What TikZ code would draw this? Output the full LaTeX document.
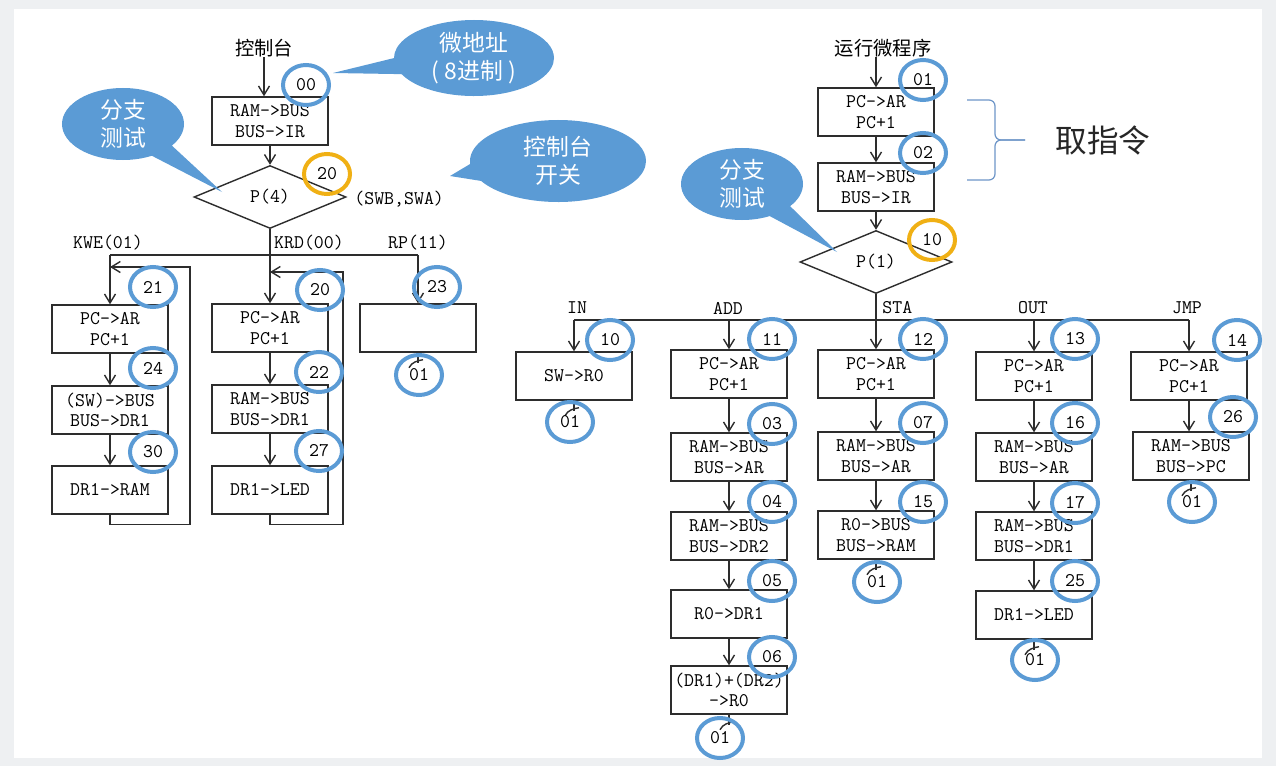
\documentclass[tikz,border=0pt]{standalone}
\usepackage{fontspec}
\usetikzlibrary{shapes.geometric,shapes.callouts,arrows.meta}
\newfontfamily\cjk{Noto Sans CJK SC}
\newcommand\boxfont{\ttfamily}
\definecolor{tagblue}{RGB}{91,155,213}
\definecolor{tagorange}{RGB}{240,176,20}
\definecolor{lineclr}{RGB}{45,45,45}
\definecolor{braceclr}{RGB}{110,150,200}
\definecolor{bgmargin}{RGB}{238,240,242}

\tikzset{
  op/.style={draw=lineclr, line width=0.8pt, fill=white, minimum width=23.2mm, minimum height=9.6mm,
    inner sep=0pt, align=center, font=\boxfont\fontsize{11pt}{11.6pt}\selectfont},
  test/.style={diamond, draw=lineclr, line width=0.8pt, minimum width=30.4mm, minimum height=12.6mm,
    inner sep=0pt, font=\boxfont\fontsize{11pt}{12pt}\selectfont},
  tag/.style={ellipse, draw=tagblue, line width=0.8mm, minimum width=9.2mm, minimum height=8mm,
    inner sep=0pt, font=\boxfont\fontsize{11pt}{12pt}\selectfont},
  tagor/.style={tag, draw=tagorange},
  lbl/.style={inner sep=0pt, font=\boxfont\fontsize{11pt}{12pt}\selectfont},
  cnlbl/.style={inner sep=0pt, font=\cjk\fontsize{11pt}{13pt}\selectfont},
  bubble/.style={ellipse callout, fill=tagblue, text=white, inner sep=0pt, align=center,
    callout pointer arc=25, font=\cjk\fontsize{13pt}{16pt}\selectfont},
  flow/.style={draw=lineclr, line width=0.8pt, -{Straight Barb[length=1.8mm,width=2.2mm]}},
  wire/.style={draw=lineclr, line width=0.8pt},
  pics/retmark/.style={code={
    \draw[wire] (0,0) -- (0,10);
    \draw[wire] (5,7) .. controls (0,8) and (-6,9) .. (-9,15);}}
}

\begin{document}
\begin{tikzpicture}[x=0.2mm,y=-0.2mm]
  \fill[bgmargin] (0,0) rectangle (1276,766);
  \fill[white] (14,9) rectangle (1262,758);
  \useasboundingbox (0,0) rectangle (1276,766);

  % console micro program
  \node[cnlbl] (ctl) at (264,48) {控制台};
  \node[op] (b00) at (270,121) {RAM->BUS\\BUS->IR};
  \node[test] (dia4) at (270,197) {P(4)};
  \node[lbl, anchor=west] (sw) at (354,199) {(SWB,SWA)};
  \draw[flow] (ctl.south) -- (ctl.south |- b00.north);
  \draw[flow] (b00) -- (dia4);

  \node[lbl] (kwe) at (108,243) {KWE(01)};
  \node[lbl] (krd) at (309,243) {KRD(00)};
  \node[lbl] (rpl) at (418,243) {RP(11)};

  \node[op] (kwe1) at (110,329) {PC->AR\\PC+1};
  \node[op] (kwe2) at (110,410) {(SW)->BUS\\BUS->DR1};
  \node[op] (kwe3) at (110,490) {DR1->RAM};
  \node[op] (krd1) at (270,328) {PC->AR\\PC+1};
  \node[op] (krd2) at (270,409) {RAM->BUS\\BUS->DR1};
  \node[op] (krd3) at (270,490) {DR1->LED};
  \node[op] (rp1) at (418,328) {};

  \coordinate (lbar) at (270,255);
  \draw[wire] (dia4.south) -- (lbar);
  \draw[wire] (kwe1.north |- lbar) -- (rp1.north |- lbar);
  \draw[flow] (kwe1.north |- lbar) -- (kwe1.north);
  \draw[flow] (lbar) -- (krd1.north);
  \draw[flow] (rp1.north |- lbar) -- (rp1.north);
  \draw[flow] (kwe1) -- (kwe2);
  \draw[flow] (kwe2) -- (kwe3);
  \draw[flow] (krd1) -- (krd2);
  \draw[flow] (krd2) -- (krd3);

  % write / read loops
  \coordinate (kweback) at (190,267);
  \coordinate (krdback) at (343,272);
  \draw[flow] (kwe3.south) -- ++(0,10) -| (kweback) -- (kweback -| kwe1.north);
  \draw[flow] (krd3.south) -- ++(0,10) -| (krdback) -- (krdback -| krd1.north);
  \pic at (rp1.south) {retmark};

  \node[tag] (t00) at (306,85) {00};
  \node[tagor] (t20a) at (327,174) {20};
  \node[tag] (t21) at (153,287) {21};
  \node[tag] (t24) at (153,368) {24};
  \node[tag] (t30) at (153,452) {30};
  \node[tag] (t20) at (320,290) {20};
  \node[tag] (t22) at (319,372) {22};
  \node[tag] (t27) at (319,451) {27};
  \node[tag] (t23) at (437,287) {23};
  \node[tag] (rpend) at (419,375) {01};

  \node[bubble, minimum width=32mm, minimum height=15.2mm,
    callout absolute pointer={(333,73)}] (addrnote) at (474,58) {微地址\\( 8进制 )};
  \node[bubble, minimum width=24.4mm, minimum height=14.4mm,
    callout absolute pointer={(222,192)}] (brnote) at (123,124) {分支\\测试};
  \node[bubble, minimum width=35.2mm, minimum height=16.4mm,
    callout absolute pointer={(450,176)}] (swnote) at (558,161) {控制台\\开关};

  % run micro program
  \node[cnlbl] (run) at (883,48) {运行微程序};
  \node[op] (f1) at (876,112) {PC->AR\\PC+1};
  \node[op] (f2) at (876,187) {RAM->BUS\\BUS->IR};
  \node[test] (dia1) at (876,262) {P(1)};
  \draw[flow] (run.south -| f1.north) -- (f1.north);
  \draw[flow] (f1) -- (f2);
  \draw[flow] (f2) -- (dia1);

  \draw[braceclr, line width=0.7pt, rounded corners=1.2mm] (967,100) -- (995,100) -- (995,140) -- (1025,140);
  \draw[braceclr, line width=0.7pt, rounded corners=1.2mm] (967,180) -- (995,180) -- (995,140) -- (1025,140);
  \node[inner sep=0pt, text=black!85, font=\cjk\fontsize{18pt}{20pt}\selectfont] (fetch) at (1103,140) {取指令};

  \node[lbl] (inl) at (577,308) {IN};
  \node[lbl] (addl) at (728,308) {ADD};
  \node[lbl, anchor=west] (stal) at (882,308) {STA};
  \node[lbl] (outl) at (1033,308) {OUT};
  \node[lbl] (jmpl) at (1187,308) {JMP};

  \node[op] (in1) at (574,376) {SW->R0};
  \node[op] (add1) at (729,374) {PC->AR\\PC+1};
  \node[op] (add2) at (729,457) {RAM->BUS\\BUS->AR};
  \node[op] (add3) at (729,536) {RAM->BUS\\BUS->DR2};
  \node[op] (add4) at (729,614) {R0->DR1};
  \node[op] (add5) at (729,690) {(DR1)+(DR2)\\->R0};
  \node[op] (sta1) at (876,374) {PC->AR\\PC+1};
  \node[op] (sta2) at (876,456) {RAM->BUS\\BUS->AR};
  \node[op] (sta3) at (876,535) {R0->BUS\\BUS->RAM};
  \node[op] (out1) at (1034,376) {PC->AR\\PC+1};
  \node[op] (out2) at (1034,457) {RAM->BUS\\BUS->AR};
  \node[op] (out3) at (1034,536) {RAM->BUS\\BUS->DR1};
  \node[op] (out4) at (1034,615) {DR1->LED};
  \node[op] (jmp1) at (1189,376) {PC->AR\\PC+1};
  \node[op] (jmp2) at (1191,456) {RAM->BUS\\BUS->PC};

  \coordinate (rbar) at (876,320);
  \draw[wire] (dia1.south) -- (rbar);
  \draw[wire] (in1.north |- rbar) -- (jmp1.north |- rbar);
  \draw[flow] (in1.north |- rbar) -- (in1.north);
  \draw[flow] (add1.north |- rbar) -- (add1.north);
  \draw[flow] (rbar) -- (sta1.north);
  \draw[flow] (out1.north |- rbar) -- (out1.north);
  \draw[flow] (jmp1.north |- rbar) -- (jmp1.north);
  \draw[flow] (add1) -- (add2);
  \draw[flow] (add2) -- (add3);
  \draw[flow] (add3) -- (add4);
  \draw[flow] (add4) -- (add5);
  \draw[flow] (sta1) -- (sta2);
  \draw[flow] (sta2) -- (sta3);
  \draw[flow] (out1) -- (out2);
  \draw[flow] (out2) -- (out3);
  \draw[flow] (out3) -- (out4);
  \draw[flow] (jmp1.south) -- (jmp1.south |- jmp2.north);
  \pic at (in1.south) {retmark};
  \pic at (add5.south) {retmark};
  \pic at (sta3.south) {retmark};
  \pic at (out4.south) {retmark};
  \pic at (jmp2.south) {retmark};

  \node[tag] (t01) at (923,80) {01};
  \node[tag] (t02) at (923,153) {02};
  \node[tagor] (t10a) at (932,240) {10};
  \node[tag] (t10) at (610,340) {10};
  \node[tag] (t11) at (772,339) {11};
  \node[tag] (t03) at (772,424) {03};
  \node[tag] (t04) at (772,502) {04};
  \node[tag] (t05) at (772,581) {05};
  \node[tag] (t06) at (772,657) {06};
  \node[tag] (t12) at (923,339) {12};
  \node[tag] (t07) at (923,423) {07};
  \node[tag] (t15) at (923,502) {15};
  \node[tag] (t13) at (1075,339) {13};
  \node[tag] (t16) at (1075,423) {16};
  \node[tag] (t17) at (1075,503) {17};
  \node[tag] (t25) at (1075,581) {25};
  \node[tag] (t14) at (1237,340) {14};
  \node[tag] (t26) at (1233,417) {26};
  \node[tag] (inend) at (570,422) {01};
  \node[tag] (addend) at (720,738) {01};
  \node[tag] (staend) at (877,582) {01};
  \node[tag] (outend) at (1035,660) {01};
  \node[tag] (jmpend) at (1192,502) {01};

  \node[bubble, minimum width=24.4mm, minimum height=14.4mm,
    callout absolute pointer={(837,252)}] (brnote2) at (742,184) {分支\\测试};
\end{tikzpicture}
\end{document}
